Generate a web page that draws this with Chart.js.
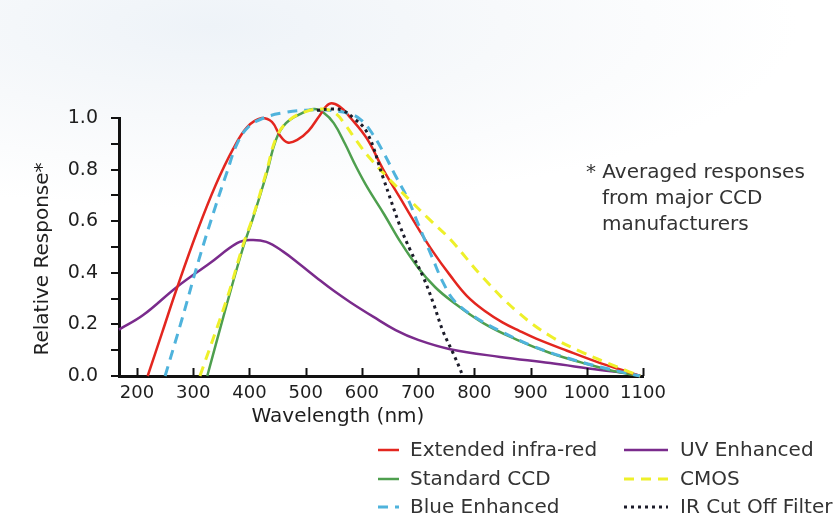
<!DOCTYPE html>
<html>
<head>
<meta charset="utf-8">
<script src="https://cdn.jsdelivr.net/npm/chart.js@4.4.0/dist/chart.umd.min.js"></script>
<style>
  html, body { margin: 0; padding: 0; }
  body {
    width: 839px; height: 522px; overflow: hidden;
    background: radial-gradient(ellipse 70% 35% at 25% 5%, #eef3f8 0%, #f7f9fb 50%, #ffffff 100%);
  }
  #grafico { display: block; }
</style>
</head>
<body>
<canvas id="grafico" width="839" height="522"></canvas>
<script>
// wavelength (nm) / relative response
const redNm = [219, 245, 271, 307, 340, 371, 396, 422, 440, 455, 468, 485, 505, 525, 542, 560, 580, 609, 638, 668, 698, 727, 757, 787, 820, 850, 880, 910, 965, 1024, 1060, 1095]
const redResp = [0, 0.17, 0.34, 0.56, 0.74, 0.88, 0.965, 1.0, 0.985, 0.93, 0.905, 0.915, 0.95, 1.01, 1.055, 1.045, 1.0, 0.92, 0.8, 0.69, 0.58, 0.48, 0.39, 0.31, 0.25, 0.208, 0.175, 0.145, 0.098, 0.05, 0.025, 0]

const greenNm = [325, 360, 389, 406, 430, 448, 465, 490, 515, 532, 550, 570, 590, 610, 640, 670, 700, 730, 760, 816, 876, 935, 994, 1054, 1095]
const greenResp = [0, 0.28, 0.5, 0.61, 0.78, 0.92, 0.98, 1.015, 1.035, 1.02, 0.98, 0.9, 0.81, 0.73, 0.625, 0.515, 0.42, 0.345, 0.29, 0.205, 0.14, 0.089, 0.05, 0.016, 0]

const blueNm = [250, 280, 310, 340, 360, 378, 398, 425, 460, 500, 540, 580, 600, 620, 640, 660, 681, 700, 725, 745, 765, 800, 850, 905, 965, 1024, 1095]
const blueResp = [0, 0.22, 0.45, 0.66, 0.79, 0.9, 0.965, 1.0, 1.02, 1.03, 1.03, 1.015, 0.99, 0.935, 0.86, 0.775, 0.69, 0.59, 0.46, 0.36, 0.29, 0.23, 0.17, 0.115, 0.07, 0.035, 0]

const uvNm = [168, 211, 271, 330, 378, 401, 430, 460, 490, 520, 550, 580, 620, 660, 700, 757, 846, 935, 1024, 1077, 1095]
const uvResp = [0.18, 0.236, 0.345, 0.438, 0.515, 0.527, 0.52, 0.482, 0.432, 0.38, 0.33, 0.285, 0.23, 0.178, 0.14, 0.104, 0.074, 0.05, 0.023, 0.01, 0]

const cmosNm = [312, 360, 389, 406, 430, 448, 470, 500, 530, 552, 570, 591, 614, 650, 686, 721, 757, 816, 876, 935, 994, 1054, 1095]
const cmosResp = [0, 0.3, 0.51, 0.615, 0.79, 0.925, 0.99, 1.025, 1.035, 1.02, 0.975, 0.91, 0.845, 0.76, 0.68, 0.605, 0.53, 0.38, 0.25, 0.155, 0.09, 0.035, 0]

const irNm = [520, 545, 565, 585, 609, 638, 668, 686, 709, 727, 744, 762, 775, 779]
const irResp = [1.03, 1.035, 1.03, 1.0, 0.945, 0.767, 0.58, 0.488, 0.384, 0.283, 0.175, 0.09, 0.025, 0]

const xTicks = [200, 300, 400, 500, 600, 700, 800, 900, 1000, 1100]
const yTicks = [0, 0.1, 0.2, 0.3, 0.4, 0.5, 0.6, 0.7, 0.8, 0.9, 1.0]
const yLabels = ['0.0', '', '0.2', '', '0.4', '', '0.6', '', '0.8', '', '1.0']

const noteLines = ['* Averaged responses', 'from major CCD', 'manufacturers']

// legend layout: [label, column, row]
const legendItems = [
  ['Extended infra-red', 0, 0], ['Standard CCD', 0, 1], ['Blue Enhanced', 0, 2],
  ['UV Enhanced', 1, 0], ['CMOS', 1, 1], ['IR Cut Off Filter', 1, 2]
]

function pares(nm, resp) {
  return nm.map((v, i) => ({ x: v, y: resp[i] }))
}

function serie(label, nm, resp, color, dash, width) {
  return {
    label: label,
    data: pares(nm, resp),
    borderColor: color,
    borderWidth: width || 2.5,
    borderDash: dash || [],
    pointRadius: 0,
    fill: false,
    clip: false,
    tension: 0.4
  }
}

Chart.defaults.font.family = "'DejaVu Sans', sans-serif"
Chart.defaults.color = '#1e1e1e'

const extras = {
  id: 'extras',
  afterDraw(chart) {
    const ctx = chart.ctx
    const area = chart.chartArea
    const sx = chart.scales.x
    ctx.save()

    // x tick marks pointing up into the plot
    ctx.strokeStyle = '#111'
    ctx.lineWidth = 2
    xTicks.forEach(v => {
      const px = Math.round(sx.getPixelForValue(v)) + 0.5
      ctx.beginPath()
      ctx.moveTo(px, area.bottom)
      ctx.lineTo(px, area.bottom - 8)
      ctx.stroke()
    })

    // axis titles
    ctx.fillStyle = '#1e1e1e'
    ctx.font = "20px 'DejaVu Sans'"
    ctx.textAlign = 'center'
    ctx.textBaseline = 'alphabetic'
    ctx.fillText('Wavelength (nm)', 338, 422)
    ctx.save()
    ctx.translate(43, 259)
    ctx.rotate(-Math.PI / 2)
    ctx.textBaseline = 'middle'
    ctx.fillText('Relative Response*', 0, 0)
    ctx.restore()

    // note
    ctx.fillStyle = '#333'
    ctx.textAlign = 'left'
    ctx.font = "20px 'DejaVu Sans'"
    ctx.fillText(noteLines[0], 586, 178)
    ctx.fillText(noteLines[1], 602, 204)
    ctx.fillText(noteLines[2], 602, 230)

    // legend
    const cols = [{ a: 378, b: 399, t: 410 }, { a: 624, b: 668, t: 680 }]
    const rows = [450, 479, 507]
    ctx.textBaseline = 'middle'
    legendItems.forEach(item => {
      const ds = chart.data.datasets.find(d => d.label === item[0])
      const c = cols[item[1]]
      const y = rows[item[2]]
      ctx.strokeStyle = ds.borderColor
      ctx.lineWidth = ds.borderWidth
      ctx.setLineDash(ds.borderDash)
      ctx.beginPath()
      ctx.moveTo(c.a, y)
      ctx.lineTo(c.b, y)
      ctx.stroke()
      ctx.setLineDash([])
      ctx.fillStyle = '#333'
      ctx.fillText(item[0], c.t, y + 1)
    })
    ctx.restore()
  }
}

const grafico = document.getElementById('grafico')

new Chart(grafico, {
  type: 'line',
  data: {
    datasets: [
      serie('IR Cut Off Filter', irNm, irResp, '#1c1c2a', [3, 4], 3),
      serie('CMOS', cmosNm, cmosResp, '#eef02a', [10, 7], 3),
      serie('Blue Enhanced', blueNm, blueResp, '#4fb3dc', [10, 7], 3),
      serie('Extended infra-red', redNm, redResp, '#e3261f'),
      serie('Standard CCD', greenNm, greenResp, '#4e9f4e'),
      serie('UV Enhanced', uvNm, uvResp, '#7a2b8c')
    ]
  },
  options: {
    responsive: false,
    animation: false,
    devicePixelRatio: 1,
    layout: { padding: { left: 0, top: 118, right: 196, bottom: 116 } },
    plugins: { legend: { display: false }, tooltip: { enabled: false } },
    scales: {
      x: {
        type: 'linear',
        min: 168,
        max: 1100,
        afterFit: s => { s.height = 30 },
        afterBuildTicks: s => { s.ticks = xTicks.map(v => ({ value: v })) },
        grid: { display: false, drawTicks: false },
        border: { display: true, color: '#111', width: 3 },
        ticks: {
          autoSkip: false, maxRotation: 0, minRotation: 0, padding: 7,
          font: { size: 18 },
          callback: v => String(v)
        }
      },
      y: {
        min: 0,
        max: 1.0,
        afterFit: s => { s.width = 119 },
        afterBuildTicks: s => { s.ticks = yTicks.map(v => ({ value: v })) },
        grid: { drawOnChartArea: false, color: '#111', lineWidth: 2, tickLength: 8 },
        border: { display: true, color: '#111', width: 3 },
        ticks: {
          padding: 13,
          font: { size: 19 },
          callback: (v, i) => yLabels[i]
        }
      }
    }
  },
  plugins: [extras]
})
</script>
</body>
</html>
